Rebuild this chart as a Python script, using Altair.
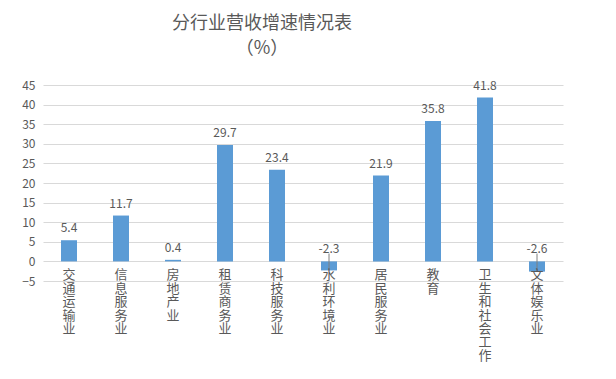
import altair as alt
import pandas as pd

categories = ["交通运输业", "信息服务业", "房地产业", "租赁商务业", "科技服务业",
              "水利环境业", "居民服务业", "教育", "卫生和社会工作", "文体娱乐业"]
values = [5.4, 11.7, 0.4, 29.7, 23.4, -2.3, 21.9, 35.8, 41.8, -2.6]
y_ticks = [-5, 0, 5, 10, 15, 20, 25, 30, 35, 40, 45]

df = pd.DataFrame({
    "cat": categories,
    "value": values,
    "vlabel": ["\n".join(list(c)) for c in categories],
    "txt": [f"{v:.1f}" for v in values],
})

FONT = "Noto Sans CJK SC"
GRAY = "#595959"

x = alt.X("cat:N", sort=categories, axis=None,
          scale=alt.Scale(paddingInner=0, paddingOuter=0))
yscale = alt.Scale(domain=[-5, 45], nice=False, zero=False)
yaxis = alt.Axis(values=y_ticks, title=None, domain=False,
                 ticks=False, labelFontSize=12, labelColor=GRAY, labelFont=FONT,
                 labelPadding=8, labelOverlap=False, labelFlush=False,
                 gridColor="#D9D9D9", gridWidth=1)

base = alt.Chart(df).transform_calculate(
    ypos="max(datum.value, 0)", zero="0", ltop="2"
)

bars = base.mark_bar(size=16, color="#5B9BD5").encode(
    x=x, y=alt.Y("value:Q", scale=yscale, axis=yaxis),
)

labels = base.mark_text(fontSize=12, color=GRAY, font=FONT, baseline="bottom", dy=-5).encode(
    x=x, y=alt.Y("ypos:Q", scale=yscale, axis=yaxis), text="txt:N"
)

leaders = base.transform_filter("datum.value < 0").mark_rule(
    color="#7F7F7F", strokeWidth=1
).encode(
    x=x, y=alt.Y("ltop:Q", scale=yscale, axis=yaxis), y2="value:Q"
)

catlabels = base.mark_text(
    fontSize=13, color=GRAY, font=FONT, baseline="top", lineBreak="\n",
    lineHeight=13.4, dy=8, align="center"
).encode(
    x=x, y=alt.Y("zero:Q", scale=yscale, axis=yaxis), text="vlabel:N"
)

chart = alt.layer(bars, leaders, labels, catlabels).properties(
    width=520, height=196,
    autosize=alt.AutoSizeParams(type="none"),
    padding={"left": 35, "top": 77, "right": 45, "bottom": 90},
    title=alt.TitleParams(
        text=["分行业营收增速情况表", "（%）"],
        fontSize=18, font=FONT, color=GRAY, fontWeight="normal",
        anchor="middle", dx=-41, offset=21, lineHeight=25,
    ),
).configure_view(stroke=None).configure_axisY(labelOverlap=False)

chart.save("out.html", embed_options={"renderer": "svg", "actions": False})
